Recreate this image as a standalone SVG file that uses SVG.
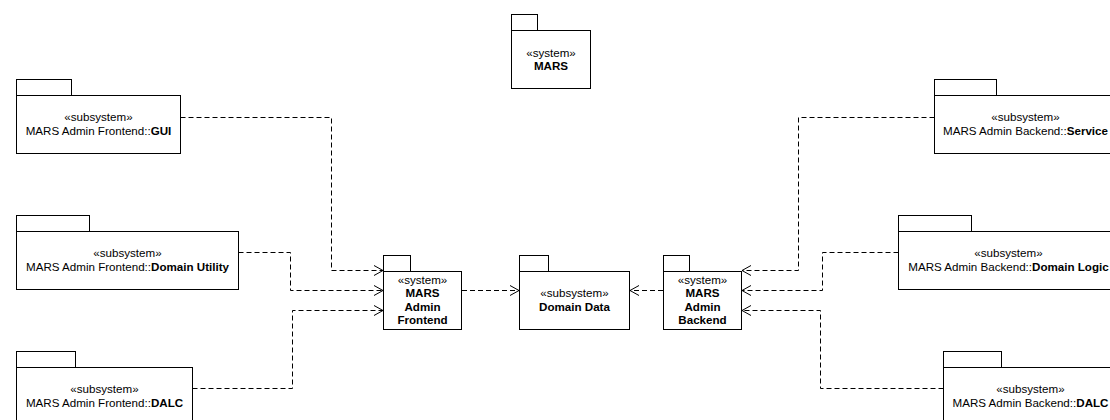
<svg xmlns="http://www.w3.org/2000/svg" width="1110" height="420" viewBox="0 0 1110 420">
  <style>
    .pkg { fill: #ffffff; stroke: #000000; stroke-width: 1; }
    .txt { font-family: "Liberation Sans", Arial, sans-serif; font-size: 11.6px; fill: #000000; text-anchor: middle; }
    .b { font-weight: bold; }
    .dep { fill: none; stroke: #000000; stroke-width: 1; stroke-dasharray: 5,3; }
    .head { fill: none; stroke: #000000; stroke-width: 1; }
  </style>
  <defs>
    <marker id="open" markerWidth="12" markerHeight="12" refX="10" refY="6" orient="auto" markerUnits="userSpaceOnUse">
      <polyline class="head" points="1,1 10,6 1,11"/>
    </marker>
  </defs>
  <rect width="1110" height="420" fill="#ffffff"/>

  <!-- dependency connectors -->
  <g id="connectors">
    <path class="dep" d="M180.5,117.5 H331.5 V270.5 H383" marker-end="url(#open)"/>
    <path class="dep" d="M238.5,252.5 H290.5 V290.5 H383" marker-end="url(#open)"/>
    <path class="dep" d="M192.5,388.5 H292.5 V310.5 H383" marker-end="url(#open)"/>
    <path class="dep" d="M462,290.5 H519" marker-end="url(#open)"/>
    <path class="dep" d="M663,290.5 H630" marker-end="url(#open)"/>
    <path class="dep" d="M934.5,117.5 H798.5 V270.5 H742" marker-end="url(#open)"/>
    <path class="dep" d="M898.5,252.5 H822.5 V290.5 H742" marker-end="url(#open)"/>
    <path class="dep" d="M943.5,388.5 H820.5 V310.5 H742" marker-end="url(#open)"/>
  </g>

  <!-- top-level system -->
  <g id="mars">
    <rect class="pkg" x="511.5" y="14.5" width="26" height="16"/>
    <rect class="pkg" x="511.5" y="30.5" width="79" height="58"/>
    <text class="txt" x="551" y="56.5">«system»</text>
    <text class="txt b" x="551" y="70">MARS</text>
  </g>

  <!-- frontend subsystems -->
  <g id="fe-gui">
    <rect class="pkg" x="16.5" y="79.5" width="55" height="16"/>
    <rect class="pkg" x="16.5" y="95.5" width="164" height="58"/>
    <text class="txt" x="98.5" y="121">«subsystem»</text>
    <text class="txt" x="98.5" y="135">MARS Admin Frontend::<tspan class="b">GUI</tspan></text>
  </g>
  <g id="fe-domain-utility">
    <rect class="pkg" x="16.5" y="215.5" width="73" height="16"/>
    <rect class="pkg" x="16.5" y="231.5" width="222" height="58"/>
    <text class="txt" x="127.5" y="257">«subsystem»</text>
    <text class="txt" x="127.5" y="271">MARS Admin Frontend::<tspan class="b">Domain Utility</tspan></text>
  </g>
  <g id="fe-dalc">
    <rect class="pkg" x="16.5" y="351.5" width="59" height="16"/>
    <rect class="pkg" x="16.5" y="367.5" width="176" height="58"/>
    <text class="txt" x="104.5" y="393">«subsystem»</text>
    <text class="txt" x="104.5" y="407">MARS Admin Frontend::<tspan class="b">DALC</tspan></text>
  </g>

  <!-- central systems -->
  <g id="admin-frontend">
    <rect class="pkg" x="383.5" y="255.5" width="27" height="16"/>
    <rect class="pkg" x="383.5" y="271.5" width="78" height="58"/>
    <text class="txt" x="422.5" y="283.5">«system»</text>
    <text class="txt b" x="422.5" y="297">MARS</text>
    <text class="txt b" x="422.5" y="310.5">Admin</text>
    <text class="txt b" x="422.5" y="324">Frontend</text>
  </g>
  <g id="domain-data">
    <rect class="pkg" x="519.5" y="255.5" width="29" height="16"/>
    <rect class="pkg" x="519.5" y="271.5" width="110" height="58"/>
    <text class="txt" x="574.5" y="297">«subsystem»</text>
    <text class="txt b" x="574.5" y="310.5">Domain Data</text>
  </g>
  <g id="admin-backend">
    <rect class="pkg" x="663.5" y="255.5" width="26" height="16"/>
    <rect class="pkg" x="663.5" y="271.5" width="78" height="58"/>
    <text class="txt" x="702.5" y="283.5">«system»</text>
    <text class="txt b" x="702.5" y="297">MARS</text>
    <text class="txt b" x="702.5" y="310.5">Admin</text>
    <text class="txt b" x="702.5" y="324">Backend</text>
  </g>

  <!-- backend subsystems -->
  <g id="be-service">
    <rect class="pkg" x="934.5" y="79.5" width="62" height="16"/>
    <rect class="pkg" x="934.5" y="95.5" width="182" height="58"/>
    <text class="txt" x="1025.5" y="121">«subsystem»</text>
    <text class="txt" x="1025.5" y="135">MARS Admin Backend::<tspan class="b">Service</tspan></text>
  </g>
  <g id="be-domain-logic">
    <rect class="pkg" x="898.5" y="215.5" width="73" height="16"/>
    <rect class="pkg" x="898.5" y="231.5" width="220" height="58"/>
    <text class="txt" x="1008.5" y="257">«subsystem»</text>
    <text class="txt" x="1008.5" y="271">MARS Admin Backend::<tspan class="b">Domain Logic</tspan></text>
  </g>
  <g id="be-dalc">
    <rect class="pkg" x="943.5" y="351.5" width="58" height="16"/>
    <rect class="pkg" x="943.5" y="367.5" width="174" height="58"/>
    <text class="txt" x="1030.5" y="393">«subsystem»</text>
    <text class="txt" x="1030.5" y="407">MARS Admin Backend::<tspan class="b">DALC</tspan></text>
  </g>
</svg>
